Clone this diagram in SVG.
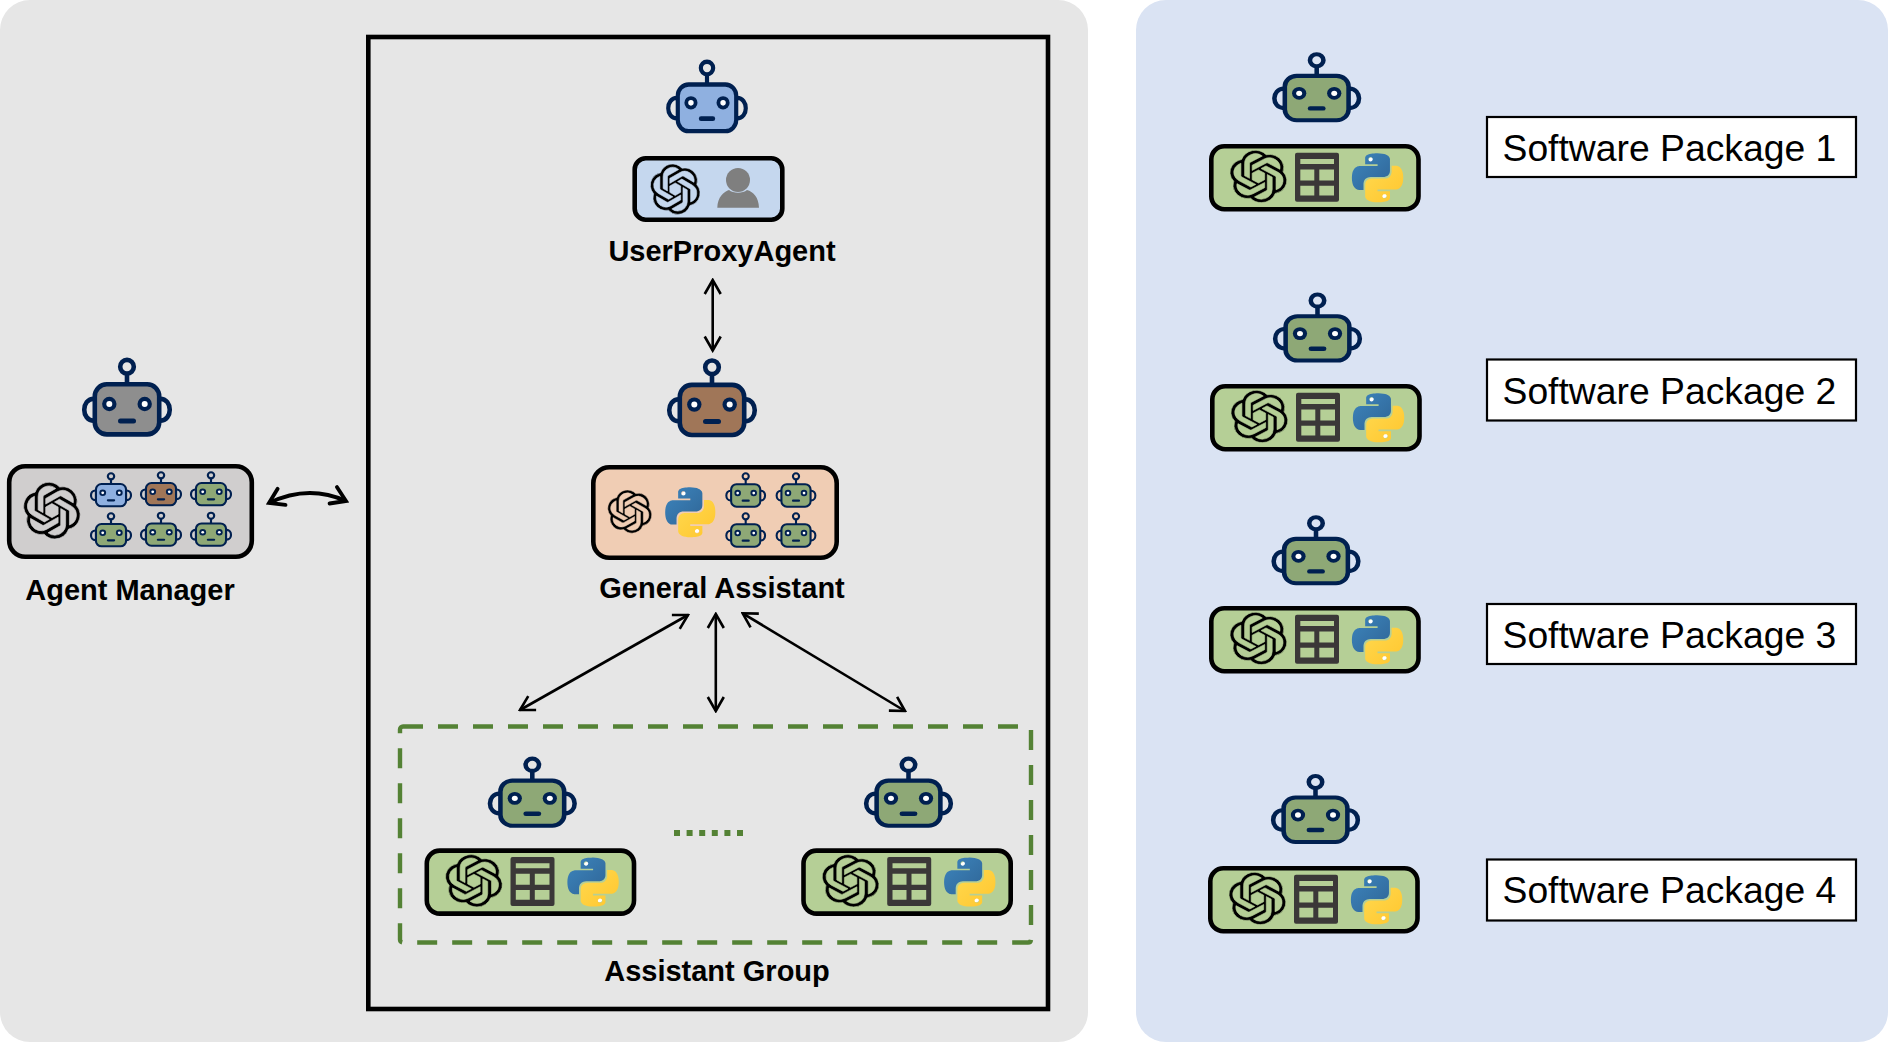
<svg xmlns="http://www.w3.org/2000/svg" xmlns:xlink="http://www.w3.org/1999/xlink" width="1888" height="1042" viewBox="0 0 1888 1042">
<style>
.lbl{font-family:"Liberation Sans",Arial,sans-serif;font-weight:700;font-size:29px;fill:#000;text-anchor:middle}
.pk{font-family:"Liberation Sans",Arial,sans-serif;font-size:37.3px;fill:#000}
.pkbox{fill:#fff;stroke:#000;stroke-width:2.2}
.card{stroke:#000;stroke-width:4.6}
.conn{fill:none;stroke:#000;stroke-width:2.6}
.oa{fill:#000;stroke-width:.28}
.rb{stroke:#002050}
.blue{fill:#8FB0E0}.brown{fill:#A07658}.gray{fill:#8E8E8E}.green{fill:#8EA876}
</style>
<defs>
<linearGradient id="pb" x1="0" y1="0" x2="1" y2="1"><stop offset="0" stop-color="#3D85BD"/><stop offset="1" stop-color="#2F6596"/></linearGradient>
<linearGradient id="py" x1="0" y1="0" x2="1" y2="1"><stop offset="0" stop-color="#FFD94F"/><stop offset="1" stop-color="#FFC62E"/></linearGradient>
<marker id="ah" viewBox="0 0 20 20" refX="18" refY="10" markerWidth="20" markerHeight="20" markerUnits="userSpaceOnUse" orient="auto-start-reverse"><path d="M4,2 L18,10 L4,18" fill="none" stroke="#000" stroke-width="2.6"/></marker>
<marker id="ah2" viewBox="0 0 24 24" refX="21" refY="12" markerWidth="24" markerHeight="24" markerUnits="userSpaceOnUse" orient="auto-start-reverse"><path d="M7,3 L21,12 L7,21" fill="none" stroke="#000" stroke-width="3.8" stroke-linecap="round"/></marker>
<g id="robot">
<path class="rb" fill="none" stroke-width="4.6" d="M-33,41 C-46,41 -46,63 -33,63 M33,41 C46,41 46,63 33,63 M0,16 V27"/>
<circle class="rb" cx="0" cy="9" r="6.8" fill="none" stroke-width="4.6"/>
<rect class="rb" x="-32.2" y="26.6" width="64.4" height="50.1" rx="12" stroke-width="4.6"/>
<circle cx="-17.7" cy="46.3" r="7.2" fill="#002050"/><circle cx="-17.7" cy="46.3" r="3" fill="#fff"/>
<circle cx="17.7" cy="46.3" r="7.2" fill="#002050"/><circle cx="17.7" cy="46.3" r="3" fill="#fff"/>
<rect x="-9" y="60.8" width="18" height="5" rx="2.5" fill="#002050"/>
</g>
<path id="oai" class="oa" d="M22.2819 9.8211a5.9847 5.9847 0 0 0-.5157-4.9108 6.0462 6.0462 0 0 0-6.5098-2.9A6.0651 6.0651 0 0 0 4.9807 4.1818a5.9847 5.9847 0 0 0-3.9977 2.9 6.0462 6.0462 0 0 0 .7427 7.0966 5.98 5.98 0 0 0 .511 4.9107 6.051 6.051 0 0 0 6.5146 2.9001A5.9847 5.9847 0 0 0 13.2599 24a6.0557 6.0557 0 0 0 5.7718-4.2058 5.9894 5.9894 0 0 0 3.9977-2.9001 6.0557 6.0557 0 0 0-.7475-7.0729zm-9.022 12.6081a4.4755 4.4755 0 0 1-2.8764-1.0408l.1419-.0804 4.7783-2.7582a.7948.7948 0 0 0 .3927-.6813v-6.7369l2.02 1.1686a.071.071 0 0 1 .038.052v5.5826a4.504 4.504 0 0 1-4.4945 4.4944zm-9.6607-4.1254a4.4708 4.4708 0 0 1-.5346-3.0137l.142.0852 4.783 2.7582a.7712.7712 0 0 0 .7806 0l5.8428-3.3685v2.3324a.0804.0804 0 0 1-.0332.0615L9.74 19.9502a4.4992 4.4992 0 0 1-6.1408-1.6464zM2.3408 7.8956a4.485 4.485 0 0 1 2.3655-1.9728V11.6a.7664.7664 0 0 0 .3879.6765l5.8144 3.3543-2.0201 1.1685a.0757.0757 0 0 1-.071 0l-4.8303-2.7865A4.504 4.504 0 0 1 2.3408 7.872zm16.5963 3.8558L13.1038 8.364 15.1192 7.2a.0757.0757 0 0 1 .071 0l4.8303 2.7913a4.4944 4.4944 0 0 1-.6765 8.1042v-5.6772a.79.79 0 0 0-.407-.667zm2.0107-3.0231l-.142-.0852-4.7735-2.7818a.7759.7759 0 0 0-.7854 0L9.409 9.2297V6.8974a.0662.0662 0 0 1 .0284-.0615l4.8303-2.7866a4.4992 4.4992 0 0 1 6.6802 4.66zM8.3065 12.863l-2.02-1.1638a.0804.0804 0 0 1-.038-.0567V6.0742a4.4992 4.4992 0 0 1 7.3757-3.4537l-.142.0805L8.704 5.459a.7948.7948 0 0 0-.3927.6813zm1.0976-2.3654l2.602-1.4998 2.6069 1.4998v2.9994l-2.5974 1.4997-2.6067-1.4997Z"/>
<g id="python">
<circle cx="9.1" cy="3.4" r="1.3" fill="#fff"/><circle cx="15" cy="20.6" r="1.3" fill="#fff"/>
<path fill="url(#pb)" fill-rule="evenodd" d="M14.25.18l.9.2.73.26.59.3.45.32.34.34.25.34.16.33.1.3.04.26.02.2-.01.13V8.5l-.05.63-.13.55-.21.46-.26.38-.3.31-.33.25-.35.19-.35.14-.33.1-.3.07-.26.04-.21.02H8.77l-.69.05-.59.14-.5.22-.41.27-.33.32-.27.35-.2.36-.15.37-.1.35-.07.32-.04.27-.02.21v3.06H3.17l-.21-.03-.28-.07-.32-.12-.35-.18-.36-.26-.36-.36-.35-.46-.32-.59-.28-.73-.21-.88-.14-1.05-.05-1.23.06-1.22.16-1.04.24-.87.32-.71.36-.57.4-.44.42-.33.42-.24.4-.16.36-.1.32-.05.24-.01h.16l.06.01h8.16v-.83H6.18l-.01-2.75-.02-.37.05-.34.11-.31.17-.28.25-.26.31-.23.38-.2.44-.18.51-.15.58-.12.64-.1.71-.06.77-.04.84-.02 1.27.05zm-6.3 1.98l-.23.33-.08.41.08.41.23.34.33.22.41.09.41-.09.33-.22.23-.34.08-.41-.08-.41-.23-.33-.33-.22-.41-.09-.41.09z"/>
<path fill="url(#py)" fill-rule="evenodd" d="M21.04 6.11l.28.06.32.12.35.18.36.27.36.35.35.47.32.59.28.73.21.88.14 1.04.05 1.23-.06 1.23-.16 1.04-.24.86-.32.71-.36.57-.4.45-.42.33-.42.24-.4.16-.36.09-.32.05-.24.02-.16-.01h-8.22v.82h5.84l.01 2.76.02.36-.05.34-.11.31-.17.29-.25.25-.31.24-.38.2-.44.17-.51.15-.58.13-.64.09-.71.07-.77.04-.84.01-1.27-.04-1.07-.14-.9-.2-.73-.25-.59-.3-.45-.33-.34-.34-.25-.34-.16-.33-.1-.3-.04-.25-.02-.2.01-.13v-5.34l.05-.64.13-.54.21-.46.26-.38.3-.32.33-.24.35-.2.35-.14.33-.1.3-.06.26-.04.21-.02.13-.01h5.84l.69-.05.59-.14.5-.21.41-.28.33-.32.27-.35.2-.36.15-.36.1-.35.07-.32.04-.28.02-.21V6.07h2.09l.14.01zm-6.47 14.25l-.23.33-.08.41.08.41.23.33.33.23.41.08.41-.08.33-.23.23-.33.08-.41-.08-.41-.23-.33-.33-.23-.41-.08-.41.08z"/>
</g>
<g id="pkg">
<rect class="card" x="2.3" y="2.3" width="207.2" height="63" rx="13" fill="#B5CF96"/>
<use href="#oai" stroke="#B5CF96" transform="translate(20.6,6.3) scale(2.4,2.18)"/>
<path fill="#3B3838" fill-rule="evenodd" d="M88,8.7 h40 a2,2 0 0 1 2,2 v45 a2,2 0 0 1 -2,2 h-40 a2,2 0 0 1 -2,-2 v-45 a2,2 0 0 1 2,-2z M91.3,15 v5 h33.7 v-5z M91.3,25.4 v11 h14 v-11z M110.3,25.4 v11 h14.7 v-11z M91.3,41.7 v9.7 h14 v-9.7z M110.3,41.7 v9.7 h14.7 v-9.7z"/>
<use href="#python" transform="translate(143,9.3) scale(2.13,2.04)"/>
</g>
</defs>

<rect width="1888" height="1042" fill="#fff"/>
<rect id="panel-left" x="0" y="0" width="1088" height="1042" rx="30" fill="#E6E6E6"/>
<rect id="panel-right" x="1136" y="0" width="752" height="1042" rx="30" fill="#DAE3F3"/>
<rect id="frame" x="368.3" y="37" width="679.7" height="972" fill="none" stroke="#000" stroke-width="4.6"/>
<rect id="assistant-group" x="400" y="726.5" width="631" height="216" rx="3" fill="none" stroke="#548235" stroke-width="4.4" stroke-dasharray="20 15"/>
<path id="ellipsis" d="M674,833 H743" stroke="#548235" stroke-width="6" stroke-dasharray="6 6.6" fill="none"/>

<g id="connectors">
<path class="conn" marker-start="url(#ah)" marker-end="url(#ah)" d="M712.7,280 V350.5"/>
<path class="conn" marker-start="url(#ah)" marker-end="url(#ah)" d="M520,710 L688,615"/>
<path class="conn" marker-start="url(#ah)" marker-end="url(#ah)" d="M715.8,614 V711"/>
<path class="conn" marker-start="url(#ah)" marker-end="url(#ah)" d="M742.7,613.3 L905,711"/>
<path fill="none" stroke="#000" stroke-width="3.8" marker-start="url(#ah2)" marker-end="url(#ah2)" d="M269,503 Q308,484 346,501"/>
</g>

<g id="agent-manager">
<use href="#robot" class="gray" transform="translate(127,357.7)"/>
<rect class="card" x="9.2" y="466.2" width="242.6" height="90.6" rx="16" fill="#D0CECE"/>
<use href="#oai" stroke="#D0CECE" transform="translate(23.2,482.3) scale(2.39,2.36)"/>
<use href="#robot" class="blue" transform="translate(111,472.3) scale(.468,.443)"/>
<use href="#robot" class="brown" transform="translate(161,471.3) scale(.468,.443)"/>
<use href="#robot" class="green" transform="translate(211,471.3) scale(.468,.443)"/>
<use href="#robot" class="green" transform="translate(111,512.3) scale(.468,.443)"/>
<use href="#robot" class="green" transform="translate(161,511.7) scale(.468,.443)"/>
<use href="#robot" class="green" transform="translate(211,511.7) scale(.468,.443)"/>
<text class="lbl" x="130" y="600">Agent Manager</text>
</g>

<g id="user-proxy-agent">
<use href="#robot" class="blue" transform="translate(707,59.7) scale(.907,.932)"/>
<rect class="card" x="634.7" y="158.3" width="147.6" height="61.4" rx="11" fill="#C5D7EE"/>
<use href="#oai" stroke="#C5D7EE" transform="translate(650,164) scale(2.1,2.1)"/>
<path fill="#7F7F7F" d="M717.3,207.7 C717.5,197 724,191.5 729,190 C733,193.5 743,193.5 747,190 C753,191.5 758.7,197 759,207.7 Z"/>
<circle cx="738" cy="180" r="12" fill="#7F7F7F"/>
<text class="lbl" x="722" y="261">UserProxyAgent</text>
</g>

<g id="general-assistant">
<use href="#robot" class="brown" transform="translate(712,358.3)"/>
<rect class="card" x="593.3" y="467.3" width="243.4" height="90.4" rx="16" fill="#F0CDB4"/>
<use href="#oai" stroke="#F0CDB4" transform="translate(607.4,490) scale(1.86,1.8)"/>
<use href="#python" transform="translate(665.3,487.3) scale(2.08,2.08)"/>
<use href="#robot" class="green" transform="translate(745.7,472.3) scale(.453,.448)"/>
<use href="#robot" class="green" transform="translate(796,472.3) scale(.453,.448)"/>
<use href="#robot" class="green" transform="translate(745.7,512.3) scale(.453,.448)"/>
<use href="#robot" class="green" transform="translate(796,512.3) scale(.453,.448)"/>
<text class="lbl" x="722" y="598">General Assistant</text>
</g>

<g id="assistant-1">
<use href="#robot" class="green" transform="translate(532.3,756.7) scale(.99,.9)"/>
<use href="#pkg" transform="translate(424.5,848.3)"/>
</g>
<g id="assistant-n">
<use href="#robot" class="green" transform="translate(908.5,756.7) scale(.99,.9)"/>
<use href="#pkg" transform="translate(801.2,848.3)"/>
</g>
<text id="assistant-group-label" class="lbl" x="717" y="981">Assistant Group</text>

<g id="package-1">
<use href="#robot" class="green" transform="translate(1316.7,52.3) scale(.99,.886)"/>
<use href="#pkg" transform="translate(1209,144)"/>
<rect class="pkbox" x="1487" y="117" width="369" height="60"/>
<text class="pk" x="1502.5" y="160.5">Software Package 1</text>
</g>
<g id="package-2">
<use href="#robot" class="green" transform="translate(1317.5,292.6) scale(.99,.886)"/>
<use href="#pkg" transform="translate(1210,384)"/>
<rect class="pkbox" x="1487" y="359.5" width="369" height="61"/>
<text class="pk" x="1502.5" y="403.5">Software Package 2</text>
</g>
<g id="package-3">
<use href="#robot" class="green" transform="translate(1316,515.3) scale(.99,.886)"/>
<use href="#pkg" transform="translate(1209,606)"/>
<rect class="pkbox" x="1487" y="604" width="369" height="60"/>
<text class="pk" x="1502.5" y="647.5">Software Package 3</text>
</g>
<g id="package-4">
<use href="#robot" class="green" transform="translate(1315.5,774) scale(.99,.886)"/>
<use href="#pkg" transform="translate(1208,866)"/>
<rect class="pkbox" x="1487" y="859.5" width="369" height="61"/>
<text class="pk" x="1502.5" y="902.5">Software Package 4</text>
</g>
</svg>
